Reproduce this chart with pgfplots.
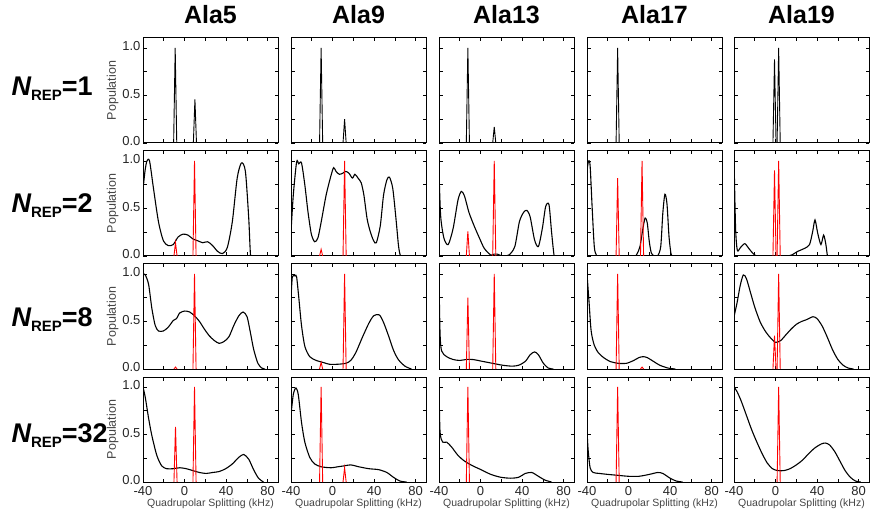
\documentclass[border=0pt]{standalone}
\usepackage{pgfplots}
\pgfplotsset{compat=1.18}
\usepackage{fontspec}
\setmainfont{Liberation Sans}
\definecolor{lblgray}{HTML}{444444}
\pgfplotsset{
 panel/.style={scale only axis, width=135pt, height=105pt, anchor=north west,
   xmin=-40, xmax=90, ymin=0, ymax=1.105,
   xtick={-40,0,40,80}, minor xtick={-20,20,60},
   ytick={0,0.5,1}, minor ytick={0.25,0.75},
   tick align=inside, xticklabels={}, yticklabels={},
   axis line style={line width=1pt}, every tick/.style={black, line width=0.7pt},
   major tick length=3.5pt, minor tick length=3.5pt,
   tick label style={font=\fontsize{13}{15}\selectfont, text=black!85},
   yticklabel style={xshift=1pt, yshift=1.5pt},
   xticklabel style={yshift=-1pt},
   clip=true},
 leftcol/.style={yticklabels={0.0,0.5,1.0},
   ylabel={Population}, ylabel style={font=\fontsize{12.5}{14}\selectfont, text=lblgray, yshift=-3pt}},
 bottomrow/.style={xticklabels={-40,0,40,80},
   xlabel={Quadrupolar Splitting (kHz)}, xlabel style={font=\fontsize{10.5}{12}\selectfont, text=lblgray, yshift=4pt}},
 blk/.style={black, line width=1.1pt, smooth, tension=0.45},
 spk/.style={black, line width=0.9pt, sharp plot},
 rd/.style={red, line width=0.9pt, sharp plot},
}
\newcommand{\rowlab}[1]{{\fontsize{27}{29}\selectfont\bfseries\itshape N}{\fontsize{15}{17}\selectfont\bfseries\raisebox{-5pt}{REP}}{\fontsize{27}{29}\selectfont\bfseries =#1}}
\begin{document}
\begin{tikzpicture}
\path[use as bounding box] (0pt,0pt) rectangle (873pt,-513pt);
% titles
\foreach \x/\t in {210.5/Ala5, 358.5/Ala9, 506.5/Ala13, 654.5/Ala17, 801.5/Ala19}
  \node[font=\fontsize{25}{27}\selectfont\bfseries] at (\x pt,-15pt) {\t};
% row labels
\node[anchor=west] at (8pt,-89pt) {\rowlab{1}};
\node[anchor=west] at (8pt,-206pt) {\rowlab{2}};
\node[anchor=west] at (8pt,-320pt) {\rowlab{8}};
\node[anchor=west] at (8pt,-436pt) {\rowlab{32}};

%%%%%%%%%%%%%%%% ROW 1 (N=1)
\begin{axis}[panel, leftcol, at={(143pt,-38pt)}]
\addplot[spk] coordinates {(-10.5,0)(-9,1.0)(-7.5,0)};
\addplot[spk] coordinates {(8.5,0)(10,0.46)(11.5,0)};
\end{axis}
\begin{axis}[panel, at={(291pt,-38pt)}]
\addplot[spk] coordinates {(-12.5,0)(-11,1.0)(-9.5,0)};
\addplot[spk] coordinates {(10.1,0)(11.6,0.25)(13.1,0)};
\end{axis}
\begin{axis}[panel, at={(439pt,-38pt)}]
\addplot[spk] coordinates {(-13.7,0)(-12.2,1.0)(-10.7,0)};
\addplot[spk] coordinates {(11.7,0)(13.2,0.17)(14.7,0)};
\end{axis}
\begin{axis}[panel, at={(587pt,-38pt)}]
\addplot[spk] coordinates {(-12,0)(-10.5,1.0)(-9,0)};
\end{axis}
\begin{axis}[panel, at={(734pt,-38pt)}]
\addplot[spk] coordinates {(-2.5,0)(-1,0.88)(0.5,0)};
\addplot[spk] coordinates {(1.5,0)(3,1.0)(4.5,0)};
\end{axis}

%%%%%%%%%%%%%%%% ROW 2 (N=2)
\begin{axis}[panel, leftcol, at={(143pt,-151pt)}]
\addplot[blk] coordinates {(-40,0.7)(-38,0.9)(-36.2,1.0)(-33.7,1.0)(-29.9,0.71)(-25.1,0.36)(-20.4,0.16)(-15.7,0.11)(-10.9,0.12)(-6.2,0.2)(-1.4,0.23)(3.3,0.22)(8,0.18)(12.8,0.16)(17.5,0.14)(22.3,0.15)(27,0.11)(31.7,0.05)(36.5,0.025)(41.2,0.09)(46,0.36)(50.7,0.82)(54.8,0.98)(58.6,0.89)(61.8,0.4)(63.6,0)(66,0)};
\addplot[rd] coordinates {(-10.2,0)(-8.7,0.14)(-7.2,0)};
\addplot[rd] coordinates {(8.1,0)(9.6,1.0)(11.1,0)};
\end{axis}
\begin{axis}[panel, at={(291pt,-151pt)}]
\addplot[blk] coordinates {(-40,0.25)(-37.8,0.64)(-34.6,0.99)(-32.5,0.97)(-29.9,0.98)(-26.7,0.75)(-23.6,0.46)(-20.4,0.23)(-17.2,0.15)(-14.1,0.19)(-10.9,0.36)(-6.2,0.64)(-1.4,0.85)(1.1,0.93)(3.3,0.89)(6.5,0.86)(9.6,0.87)(12.8,0.89)(15.9,0.87)(19.1,0.82)(21.6,0.86)(24.5,0.82)(27.6,0.77)(30.2,0.64)(33.3,0.39)(36.5,0.25)(39.6,0.16)(42.2,0.14)(46,0.32)(49.1,0.64)(52.3,0.8)(54.8,0.83)(58,0.71)(61.1,0.39)(63.6,0.1)(65.5,0)(68,0)};
\addplot[rd] coordinates {(-12.5,0)(-11,0.07)(-9.5,0)};
\addplot[rd] coordinates {(10.1,0)(11.6,1.0)(13.1,0)};
\end{axis}
\begin{axis}[panel, at={(439pt,-151pt)}]
\addplot[blk] coordinates {(-40,0.89)(-38.4,0.42)(-35.3,0.19)(-31.2,0.12)(-26.4,0.29)(-21.7,0.59)(-18.5,0.68)(-15.4,0.63)(-11.2,0.46)(-5.9,0.31)(-1.1,0.19)(3.6,0.08)(9.9,0.01)(13,0.02)(16.2,0.02)(21,0)(27.3,0.01)(33,0.1)(37.4,0.36)(41.5,0.46)(44.7,0.48)(47.8,0.41)(52,0.17)(55.7,0.1)(59.5,0.29)(62.7,0.52)(65.9,0.54)(68.4,0.25)(70.9,0)(73,0)};
\addplot[rd] coordinates {(-13.7,0)(-12.2,0.26)(-10.7,0)};
\addplot[rd] coordinates {(11.7,0)(13.2,1.0)(14.7,0)};
\end{axis}
\begin{axis}[panel, at={(587pt,-151pt)}]
\addplot[blk] coordinates {(-40,0.9)(-38.5,1.0)(-37,0.95)(-35,0.5)(-33,0.1)(-31,0.01)(-28,0)(4,0)(8,0.02)(11,0.1)(14,0.3)(16,0.4)(18,0.35)(20,0.15)(22,0.03)(25,0)(28,0)(31,0.1)(33,0.45)(35,0.65)(37,0.55)(39,0.2)(41,0.02)(43,0)(50,0)};
\addplot[rd] coordinates {(-12,0)(-10.5,0.82)(-9,0)};
\addplot[rd] coordinates {(11.5,0)(13,1.0)(14.5,0)};
\end{axis}
\begin{axis}[panel, at={(734pt,-151pt)}]
\addplot[blk] coordinates {(-40,1.05)(-38.5,0.3)(-36.8,0.06)(-33.7,0.09)(-29.6,0.13)(-25.8,0.08)(-21,0.02)(-16.3,0)(9,0)(15.3,0.01)(21.6,0.05)(27.9,0.08)(32.7,0.12)(35.8,0.26)(38,0.38)(40.6,0.24)(43.7,0.12)(46.3,0.22)(48.5,0.12)(50.1,0)(53,0)};
\addplot[rd] coordinates {(-2.5,0)(-1,0.9)(0.5,0)};
\addplot[rd] coordinates {(1.5,0)(3,1.0)(4.5,0)};
\end{axis}

%%%%%%%%%%%%%%%% ROW 3 (N=8)
\begin{axis}[panel, leftcol, at={(143pt,-264pt)}]
\addplot[blk] coordinates {(-40,1.0)(-37.8,0.99)(-34.6,0.89)(-31.5,0.64)(-28.3,0.46)(-25.1,0.4)(-20.4,0.4)(-15.7,0.44)(-10.9,0.51)(-7.8,0.53)(-4.6,0.59)(0.1,0.61)(4.9,0.6)(9.6,0.56)(14.4,0.5)(19.1,0.42)(23.8,0.35)(28.6,0.3)(33.3,0.27)(38.1,0.29)(42.8,0.34)(47.5,0.46)(52.3,0.56)(56.4,0.6)(60.2,0.55)(63.3,0.39)(66.5,0.21)(70.6,0.06)(74.4,0.01)(77.6,0)};
\addplot[rd] coordinates {(-10.2,0)(-8.7,0.02)(-7.2,0)};
\addplot[rd] coordinates {(8.1,0)(9.6,1.0)(11.1,0)};
\end{axis}
\begin{axis}[panel, at={(291pt,-264pt)}]
\addplot[blk] coordinates {(-40,0.74)(-38.7,0.97)(-36.2,0.98)(-34.6,0.97)(-32.4,0.74)(-29.9,0.46)(-26.7,0.24)(-22,0.13)(-15.7,0.09)(-9.4,0.07)(-3,0.05)(4.9,0.05)(12.8,0.06)(17.5,0.09)(22.3,0.17)(28.6,0.33)(34.9,0.48)(39.6,0.56)(45,0.57)(49.1,0.49)(53.9,0.35)(58.6,0.2)(63.3,0.1)(69.7,0.03)(76,0)};
\addplot[rd] coordinates {(-12.5,0)(-11,0.07)(-9.5,0)};
\addplot[rd] coordinates {(10.1,0)(11.6,1.0)(13.1,0)};
\end{axis}
\begin{axis}[panel, at={(439pt,-264pt)}]
\addplot[blk] coordinates {(-40,0.96)(-39,0.38)(-37.5,0.19)(-32.7,0.13)(-26.4,0.1)(-20.1,0.09)(-13.8,0.1)(-7.5,0.1)(2,0.08)(11.5,0.06)(21,0.04)(30.5,0.03)(36.8,0.04)(43.1,0.08)(47.8,0.15)(52,0.18)(55.7,0.15)(60.5,0.06)(65.2,0.01)(70,0)};
\addplot[rd] coordinates {(-13.7,0)(-12.2,0.75)(-10.7,0)};
\addplot[rd] coordinates {(11.7,0)(13.2,1.0)(14.7,0)};
\end{axis}
\begin{axis}[panel, at={(587pt,-264pt)}]
\addplot[blk] coordinates {(-40,1.0)(-38,0.7)(-36,0.4)(-33,0.25)(-29,0.17)(-24,0.12)(-18,0.08)(-10,0.06)(-2,0.06)(5,0.09)(10,0.12)(14,0.13)(18,0.12)(24,0.08)(30,0.04)(38,0.01)(45,0)};
\addplot[rd] coordinates {(-12,0)(-10.5,1.0)(-9,0)};
\addplot[rd] coordinates {(11.5,0)(13,0.02)(14.5,0)};
\end{axis}
\begin{axis}[panel, at={(734pt,-264pt)}]
\addplot[blk] coordinates {(-40,0.55)(-37,0.7)(-34,0.88)(-31,0.99)(-28,0.95)(-24,0.8)(-20,0.65)(-15,0.5)(-10,0.4)(-5,0.33)(0,0.28)(5,0.3)(10,0.36)(15,0.42)(20,0.47)(25,0.5)(30,0.52)(36,0.55)(40,0.53)(45,0.45)(50,0.33)(55,0.2)(60,0.1)(65,0.04)(70,0.01)(75,0)};
\addplot[rd] coordinates {(-2.5,0)(-1,0.35)(0.5,0)};
\addplot[rd] coordinates {(1.5,0)(3,1.0)(4.5,0)};
\end{axis}

%%%%%%%%%%%%%%%% ROW 4 (N=32)
\begin{axis}[panel, leftcol, bottomrow, at={(143pt,-377pt)}]
\addplot[blk] coordinates {(-40,1.0)(-37.8,0.89)(-34.6,0.67)(-31.5,0.49)(-26.7,0.28)(-22,0.17)(-17.2,0.14)(-10.9,0.14)(-4.6,0.15)(1.7,0.14)(8,0.12)(14.4,0.1)(20.7,0.09)(27,0.1)(33.3,0.11)(39.6,0.14)(46,0.19)(52.3,0.26)(57,0.29)(61.8,0.24)(66.5,0.13)(71.2,0.04)(76,0)};
\addplot[rd] coordinates {(-10.2,0)(-8.7,0.58)(-7.2,0)};
\addplot[rd] coordinates {(8.1,0)(9.6,1.0)(11.1,0)};
\end{axis}
\begin{axis}[panel, bottomrow, at={(291pt,-377pt)}]
\addplot[blk] coordinates {(-40,0.71)(-37.8,0.92)(-35.3,0.99)(-33,0.92)(-29.9,0.63)(-26.7,0.42)(-22,0.26)(-17.2,0.19)(-10.9,0.16)(-1.4,0.15)(4.9,0.16)(11.2,0.17)(17.5,0.18)(25.4,0.16)(34.9,0.14)(44.4,0.13)(52.3,0.1)(58.6,0.05)(64.9,0.01)(71.2,0)};
\addplot[rd] coordinates {(-12.5,0)(-11,1.0)(-9.5,0)};
\addplot[rd] coordinates {(10.1,0)(11.6,0.15)(13.1,0)};
\end{axis}
\begin{axis}[panel, bottomrow, at={(439pt,-377pt)}]
\addplot[blk] coordinates {(-40,1.0)(-39,0.53)(-36.5,0.42)(-32.7,0.42)(-28,0.37)(-21.7,0.28)(-15.4,0.22)(-7.5,0.17)(0.4,0.13)(9.9,0.08)(19.4,0.05)(28.9,0.04)(36.8,0.05)(43.1,0.09)(49.4,0.1)(55.7,0.06)(62.1,0.02)(68.4,0)};
\addplot[rd] coordinates {(-13.7,0)(-12.2,1.0)(-10.7,0)};
\end{axis}
\begin{axis}[panel, bottomrow, at={(587pt,-377pt)}]
\addplot[blk] coordinates {(-40,0.55)(-39,0.35)(-37,0.15)(-34,0.1)(-28,0.09)(-20,0.08)(-10,0.07)(0,0.06)(10,0.06)(20,0.08)(28,0.1)(33,0.09)(40,0.04)(46,0.01)(52,0)};
\addplot[rd] coordinates {(-12,0)(-10.5,1.0)(-9,0)};
\end{axis}
\begin{axis}[panel, bottomrow, at={(734pt,-377pt)}]
\addplot[blk] coordinates {(-40,1.0)(-37,0.95)(-33,0.85)(-28,0.7)(-23,0.55)(-18,0.42)(-13,0.3)(-8,0.2)(-3,0.14)(2,0.12)(8,0.12)(14,0.14)(20,0.18)(26,0.23)(32,0.3)(38,0.36)(44,0.4)(48,0.41)(52,0.39)(57,0.32)(62,0.22)(67,0.12)(72,0.05)(77,0.01)(82,0)};
\addplot[rd] coordinates {(1.5,0)(3,1.0)(4.5,0)};
\end{axis}
\end{tikzpicture}
\end{document}
